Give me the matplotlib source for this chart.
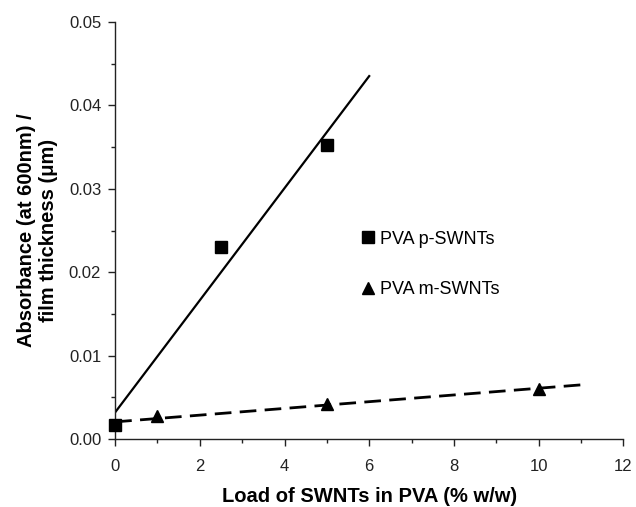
import numpy as np
import matplotlib
matplotlib.use("Agg")
import matplotlib.pyplot as plt
from matplotlib.lines import Line2D

plt.rcParams['font.family'] = ['Liberation Sans', 'DejaVu Sans']

# Data
p_x = [0, 2.5, 5]
p_y = [0.0017, 0.0230, 0.0353]
m_x = [0, 1, 5, 10]
m_y = [0.0017, 0.0028, 0.0042, 0.0060]
p_fit_range = [0, 6]
m_fit_range = [0, 11]
p_label = "PVA p-SWNTs"
m_label = "PVA m-SWNTs"

fig = plt.figure(figsize=(6.36, 5.07), dpi=100)
ax = fig.add_axes([0.181, 0.134, 0.799, 0.8225])

# trend lines (least squares)
pc = np.polyfit(p_x, p_y, 1)
mc = np.polyfit(m_x, m_y, 1)
xp = np.array(p_fit_range)
xm = np.array(m_fit_range)
ax.plot(xp, np.polyval(pc, xp), color='black', lw=1.6)
ax.plot(xm, np.polyval(mc, xm), color='black', lw=2.0, dashes=(6, 3))

ax.plot(p_x, p_y, 's', color='black', ms=8, clip_on=False, zorder=5)
ax.plot(m_x[1:], m_y[1:], '^', color='black', ms=9, clip_on=False, zorder=5)

ax.set_xlim(0, 12)
ax.set_ylim(0, 0.05)
ax.set_xticks(np.arange(0, 13, 2))
ax.set_xticks(np.arange(1, 12, 2), minor=True)
ax.set_yticks(np.arange(0, 0.051, 0.01))
ax.set_yticks(np.arange(0.005, 0.05, 0.01), minor=True)
ax.set_yticklabels([f"{v:.2f}" for v in np.arange(0, 0.051, 0.01)])
ax.spines['top'].set_visible(False)
ax.spines['right'].set_visible(False)
for s in ('left', 'bottom'):
    ax.spines[s].set_linewidth(1.0)
    ax.spines[s].set_color('#222222')
ax.tick_params(which='major', direction='out', length=5, width=1, labelsize=12, colors='#222222')
ax.tick_params(axis='x', which='major', pad=9)
ax.tick_params(axis='y', which='major', pad=5)
ax.tick_params(which='minor', direction='out', length=3, width=1, colors='#222222')

ax.set_xlabel("Load of SWNTs in PVA (% w/w)", fontsize=14.5, fontweight='bold', labelpad=10)
ax.set_ylabel("Absorbance (at 600nm) /\nfilm thickness (\u03bcm)", fontsize=14.5, fontweight='bold', labelpad=8)

handles = [Line2D([], [], marker='s', color='black', ls='none', ms=8),
           Line2D([], [], marker='^', color='black', ls='none', ms=9)]
ax.legend(handles, [p_label, m_label], loc='upper left', bbox_to_anchor=(0.483, 0.5),
          frameon=False, fontsize=13, handlelength=0.8, handletextpad=0.3,
          labelspacing=1.85, borderpad=0, borderaxespad=0)

fig.savefig("out.png", dpi=100)
